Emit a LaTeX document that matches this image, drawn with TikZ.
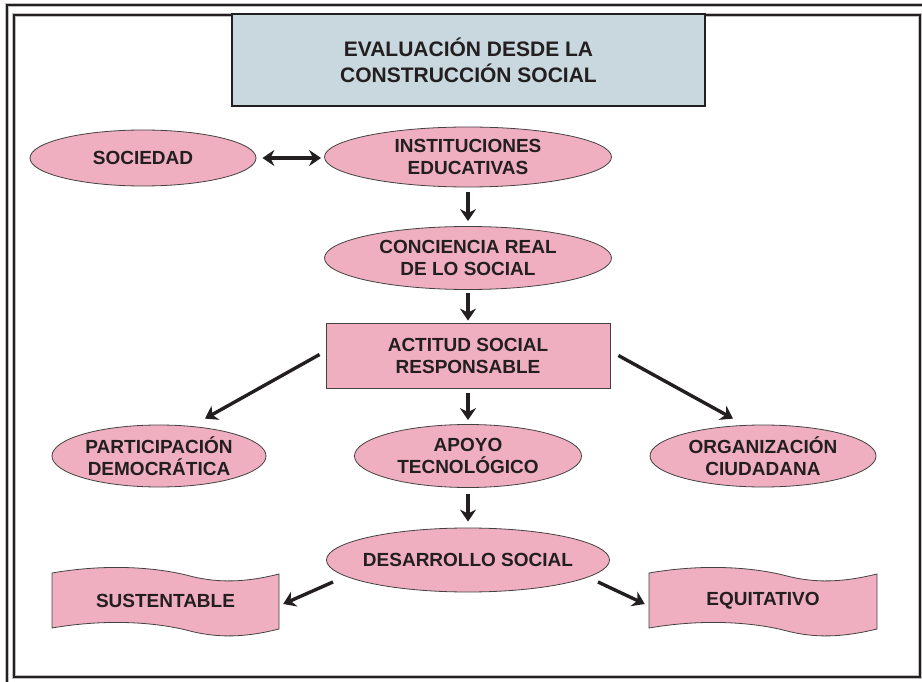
\documentclass[tikz,border=0pt]{standalone}
\usepackage{fontspec}
\setmainfont{Liberation Sans}
\usetikzlibrary{shapes.geometric,arrows.meta,calc}
\definecolor{pinkf}{RGB}{239,175,192}
\definecolor{titlef}{RGB}{201,216,222}
\definecolor{ink}{RGB}{35,31,32}
\begin{document}
\begin{tikzpicture}[x=1pt,y=-1pt,
  lbl/.style={font=\bfseries\fontsize{19}{22}\selectfont, text=ink, align=center},
  oval/.style={ellipse, draw=ink!85, line width=0.8pt, fill=pinkf, inner xsep=-30pt, inner ysep=-10pt, lbl},
  boxn/.style={rectangle, draw=ink!85, line width=0.8pt, fill=pinkf, inner sep=0pt, lbl},
  arr/.style={draw=ink, line width=3.4pt, -{Stealth[length=12pt,width=16pt]}},
  arrtwo/.style={draw=ink, line width=3.4pt, {Stealth[length=12pt,width=16pt]}-{Stealth[length=12pt,width=16pt]}},
  framel/.style={draw=ink, line width=2.2pt},
  halo/.style={draw=gray!50, line width=3.6pt},
  wave/.style={draw=ink!85, line width=0.8pt, fill=pinkf}
]
\useasboundingbox (0,0) rectangle (922,682);
% frame
\draw[halo] (7,682) -- (7,5) -- (922,5);
\draw[framel] (7,682) -- (7,5) -- (922,5);
\draw[halo] (14,677) rectangle (920,15);
\draw[framel] (14,677) rectangle (920,15);
% title
\node[draw=ink, line width=2.5pt, fill=titlef, minimum width=473, minimum height=92,
      font=\bfseries\fontsize{21}{26}\selectfont, align=center, text=ink] (title) at (468.5,60)
      {EVALUACIÓN DESDE LA\\CONSTRUCCIÓN SOCIAL};
% nodes
\node[oval, minimum width=226, minimum height=56] (soc) at (143,158) {SOCIEDAD};
\node[oval, minimum width=287, minimum height=60] (inst) at (468,157) {INSTITUCIONES\\EDUCATIVAS};
\node[oval, minimum width=287, minimum height=63] (conc) at (468,258) {CONCIENCIA REAL\\DE LO SOCIAL};
\node[boxn, minimum width=284, minimum height=65] (act) at (468,355.5) {ACTITUD SOCIAL\\RESPONSABLE};
\node[oval, minimum width=214, minimum height=62] (part) at (159,456) {PARTICIPACIÓN\\DEMOCRÁTICA};
\node[oval, minimum width=227, minimum height=63] (apoyo) at (468,456) {APOYO\\TECNOLÓGICO};
\node[oval, minimum width=226, minimum height=62] (org) at (763,456) {ORGANIZACIÓN\\CIUDADANA};
\node[oval, minimum width=283, minimum height=64] (des) at (468,560) {DESARROLLO SOCIAL};
% wave boxes
\begin{scope}[shift={(52,0)}]
\draw[wave] (0,573) .. controls (58,563) and (108,568) .. (138,576) .. controls (173,585) and (203,580) .. (227,574)
  -- (227,629) .. controls (203,635) and (173,640) .. (138,631) .. controls (108,623) and (58,618) .. (0,628) -- cycle;
\end{scope}
\begin{scope}[shift={(649,0)}]
\draw[wave] (0,573) .. controls (58,563) and (108,568) .. (138,576) .. controls (173,585) and (203,580) .. (228,574)
  -- (228,629) .. controls (203,635) and (173,640) .. (138,631) .. controls (108,623) and (58,618) .. (0,628) -- cycle;
\end{scope}
\node[lbl, minimum width=227, minimum height=55, inner sep=0pt] (sust) at (165.5,601) {SUSTENTABLE};
\node[lbl, minimum width=228, minimum height=55, inner sep=0pt] (equi) at (763,601) {EQUITATIVO};
% connectors
\draw[arrtwo, shorten <=6, shorten >=3] (soc.east) -- (soc.east -| inst.west);
\draw[arr, shorten <=5, shorten >=5] (inst.south) -- (conc.north);
\draw[arr, shorten <=3, shorten >=2] (conc.south) -- (act.north);
\draw[arr, shorten <=5, shorten >=4] (act.south) -- (apoyo.north);
\draw[arr, shorten <=6, shorten >=6] (apoyo.south) -- (des.north);
\coordinate (pa) at ($(part.north)+(46,-6)$);
\coordinate (oa) at ($(org.north)+(-30,-6)$);
\draw[arr] ($(act.west)+(-6,-1)$) -- (pa);
\draw[arr] ($(act.east)+(8,0)$) -- (oa);
\coordinate (sa) at ($(sust.east)+(4,3)$);
\coordinate (ea) at ($(equi.west)+(-4,3)$);
\draw[arr] ($(des.center)+(-135,22)$) -- (sa);
\draw[arr] ($(des.center)+(130,22)$) -- (ea);
\end{tikzpicture}
\end{document}
